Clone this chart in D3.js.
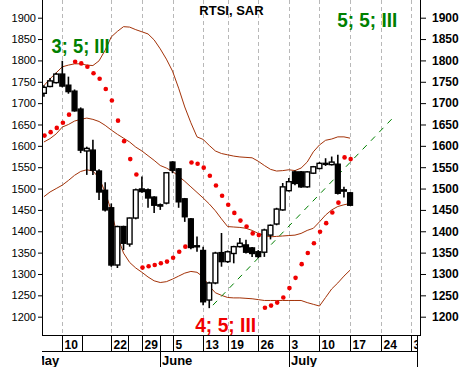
<!DOCTYPE html>
<html lang="en">
<head>
  <meta charset="UTF-8">
  <title>RTSI, SAR</title>
  <style>
    body { margin: 0; background: #fff; }
    svg { display: block; font-family: "Liberation Sans", Arial, sans-serif; }
  </style>
</head>
<body>
  <div id="chart"></div>
  <script src="https://cdn.jsdelivr.net/npm/d3@7/dist/d3.min.js"></script>
  <script>
    // trading days, index 0 = 10 May; first candle is index -3
    var firstDay = -3;
    var opens  = [1723, 1739, 1748, 1768, 1742, 1728, 1686, 1588, 1590, 1541, 1496, 1455, 1321, 1411, 1370, 1431, 1499,
      1497, 1480, 1462, 1466, 1562, 1546, 1476, 1429, 1366, 1355, 1239, 1279, 1350, 1329, 1348, 1364, 1368, 1361, 1352,
      1351, 1391, 1417, 1450, 1495, 1539, 1539, 1504, 1536, 1547, 1557, 1556, 1557, 1494, 1490];
    var highs  = [1742, 1759, 1771, 1799, 1762, 1732, 1690, 1598, 1614, 1545, 1515, 1465, 1413, 1413, 1432, 1500, 1528,
      1500, 1482, 1465, 1538, 1564, 1548, 1478, 1431, 1388, 1364, 1282, 1352, 1396, 1355, 1366, 1384, 1380, 1363, 1356,
      1406, 1416, 1455, 1513, 1525, 1542, 1541, 1541, 1553, 1562, 1571, 1575, 1579, 1504, 1492];
    var lows   = [1715, 1737, 1746, 1737, 1722, 1680, 1583, 1532, 1532, 1473, 1446, 1317, 1314, 1356, 1364, 1428, 1490,
      1455, 1443, 1450, 1463, 1536, 1455, 1422, 1358, 1352, 1227, 1220, 1276, 1317, 1326, 1325, 1362, 1348, 1340, 1337,
      1340, 1381, 1414, 1448, 1493, 1508, 1502, 1502, 1534, 1545, 1553, 1554, 1486, 1479, 1459];
    var closes = [1737, 1752, 1768, 1740, 1727, 1682, 1590, 1594, 1543, 1492, 1450, 1321, 1411, 1372, 1431, 1497, 1493,
      1478, 1461, 1459, 1537, 1543, 1469, 1434, 1362, 1364, 1235, 1279, 1349, 1329, 1352, 1364, 1372, 1351, 1348, 1341,
      1403, 1414, 1452, 1504, 1516, 1512, 1504, 1539, 1551, 1559, 1559, 1562, 1489, 1497, 1461];
    var sar    = [1624, 1632, 1642, 1654, 1673, 1797, 1793, 1785, 1770, 1757, 1733, 1706, 1659, 1611, 1569, 1533, 1315,
      1318, 1321, 1325, 1329, 1338, 1352, 1364, 1561, 1558, 1549, 1530, 1507, 1483, 1462, 1443, 1425, 1411, 1395, 1391,
      1221, 1226, 1233, 1245, 1267, 1291, 1323, 1349, 1372, 1399, 1419, 1444, 1467, 1573, 1569];
    var bandUpper = [1741, 1757, 1771, 1785, 1789, 1792, 1792, 1789, 1788, 1799, 1824, 1855, 1868, 1879, 1878, 1872, 1867,
      1862, 1848, 1827, 1803, 1775, 1735, 1691, 1654, 1621, 1615, 1601, 1588, 1582, 1579, 1576, 1574, 1573, 1572, 1564,
      1554, 1545, 1541, 1542, 1544, 1542, 1548, 1562, 1586, 1602, 1613, 1616, 1621, 1621, 1618];
    var bandMiddle = [1609, 1617, 1628, 1644, 1650, 1658, 1662, 1665, 1662, 1657, 1648, 1637, 1627, 1618, 1609, 1597, 1588,
      1577, 1566, 1554, 1548, 1540, 1529, 1517, 1504, 1491, 1478, 1464, 1448, 1429, 1411, 1410, 1409, 1407, 1402, 1395,
      1390, 1387, 1388, 1389, 1390, 1391, 1395, 1402, 1407, 1422, 1438, 1450, 1458, 1462, 1465];
    var bandLower = [1481, 1492, 1500, 1508, 1519, 1531, 1540, 1544, 1541, 1525, 1492, 1448, 1389, 1349, 1327, 1314, 1304,
      1293, 1284, 1280, 1282, 1288, 1295, 1302, 1306, 1304, 1293, 1272, 1256, 1250, 1245, 1244, 1244, 1243, 1242, 1240,
      1238, 1238, 1238, 1238, 1238, 1238, 1238, 1233, 1229, 1225, 1245, 1265, 1279, 1295, 1309];
    var trendLine = [{day: 24.6, value: 1227}, {day: 53.9, value: 1664}];

    var tickDays   = [0, 8, 13, 18, 23, 27, 32, 37, 42, 47, 52, 57];
    var tickLabels = ['10', '22', '29', '5', '13', '19', '26', '3', '10', '17', '24', '31'];
    var extraDividers = [3.2, 10.8];
    var months = [{name: 'May', day: -4.9}, {name: 'June', day: 16}, {name: 'July', day: 37}];
    var monthEnd = 58;   // 1 Aug, divider only, label falls outside the chart
    var notes = [
      {text: '3; 5; III', day: -1.75, value: 1817, color: '#008000', len: 58},
      {text: '5; 5; III', day: 44.9, value: 1878, color: '#008000', len: 60},
      {text: '4; 5; III', day: 21.7, value: 1164, color: '#f00000', len: 61}
    ];

    var width = 462, height = 367;
    var left = 42, right = 420, bottom = 335;

    var x = d3.scaleLinear().domain([0, 57]).range([62.3, 411.3]);
    var y = d3.scaleLinear().domain([1200, 1900]).range([316.7, 17.7]);

    var candles = opens.map(function(o, k) {
      return {day: firstDay + k, open: o, high: highs[k], low: lows[k], close: closes[k], sar: sar[k],
        up: bandUpper[k], mid: bandMiddle[k], lo: bandLower[k]};
    });

    var svg = d3.select('#chart').append('svg')
      .attr('width', width)
      .attr('height', height);
    svg.append('rect').attr('width', width).attr('height', height).attr('fill', '#fff');

    var defs = svg.append('defs');
    defs.append('clipPath').attr('id', 'plotClip')
      .append('rect').attr('x', left).attr('y', 0).attr('width', right - left).attr('height', bottom);
    defs.append('clipPath').attr('id', 'axisClip')
      .append('rect').attr('x', left).attr('y', bottom).attr('width', 418 - left).attr('height', height - bottom);

    var plot = svg.append('g').attr('clip-path', 'url(#plotClip)');

    // vertical grid
    plot.append('g')
      .selectAll('line')
      .data(tickDays)
      .enter().append('line')
      .attr('x1', function(d) { return Math.round(x(d)) + 0.5; })
      .attr('x2', function(d) { return Math.round(x(d)) + 0.5; })
      .attr('y1', 0)
      .attr('y2', bottom)
      .attr('stroke', '#b8b8b8')
      .attr('stroke-dasharray', '4,3');

    // bollinger bands
    ['up', 'mid', 'lo'].forEach(function(key) {
      plot.append('path')
        .datum(candles)
        .attr('fill', 'none')
        .attr('stroke', '#a33208')
        .attr('stroke-width', 1)
        .attr('d', d3.line()
          .x(function(d) { return x(d.day); })
          .y(function(d) { return y(d[key]); }));
    });

    // trend line
    plot.append('path')
      .datum(trendLine)
      .attr('fill', 'none')
      .attr('stroke', '#008000')
      .attr('stroke-width', 1)
      .attr('stroke-dasharray', '6,6')
      .attr('d', d3.line()
        .x(function(d) { return x(d.day); })
        .y(function(d) { return y(d.value); }));

    // candles
    var c = plot.append('g')
      .selectAll('g')
      .data(candles)
      .enter().append('g');
    c.append('line')
      .attr('x1', function(d) { return x(d.day); })
      .attr('x2', function(d) { return x(d.day); })
      .attr('y1', function(d) { return y(d.high); })
      .attr('y2', function(d) { return y(d.low); })
      .attr('stroke', '#000')
      .attr('stroke-width', 1.6);
    c.append('rect')
      .attr('x', function(d) { return x(d.day) - 2.4; })
      .attr('width', 4.8)
      .attr('y', function(d) { return y(Math.max(d.open, d.close)); })
      .attr('height', function(d) { return Math.max(1, Math.abs(y(d.open) - y(d.close))); })
      .attr('fill', function(d) { return d.close >= d.open ? '#fff' : '#000'; })
      .attr('stroke', '#000')
      .attr('stroke-width', 1.4);

    // parabolic SAR
    plot.append('g')
      .selectAll('circle')
      .data(candles)
      .enter().append('circle')
      .attr('cx', function(d) { return x(d.day) + 0.6; })
      .attr('cy', function(d) { return y(d.sar); })
      .attr('r', 2.3)
      .attr('fill', '#f00000');

    // annotations
    svg.append('g')
      .selectAll('text')
      .data(notes)
      .enter().append('text')
      .attr('x', function(d) { return x(d.day); })
      .attr('y', function(d) { return y(d.value); })
      .attr('fill', function(d) { return d.color; })
      .attr('font-size', 20)
      .attr('font-weight', 'bold')
      .attr('textLength', function(d) { return d.len; })
      .attr('lengthAdjust', 'spacingAndGlyphs')
      .text(function(d) { return d.text; });

    svg.append('text')
      .attr('x', 231.5)
      .attr('y', 15)
      .attr('text-anchor', 'middle')
      .attr('font-size', 13)
      .attr('font-weight', 'bold')
      .text('RTSI, SAR');

    // y axes
    function yAxis(axisFn, xpos, major, minor, pad, bold, fs) {
      var g = svg.append('g').attr('transform', 'translate(' + xpos + ',0)');
      g.call(axisFn(y).tickValues(d3.range(1160, 1941, 10)).tickSize(minor).tickFormat(''));
      g.call(axisFn(y).tickValues(d3.range(1200, 1901, 50)).tickSize(major).tickPadding(pad)
        .tickFormat(d3.format('d')));
      g.selectAll('.domain').remove();
      g.selectAll('text').attr('font-size', fs).attr('font-weight', bold ? 'bold' : 'normal')
        .attr('font-family', '"Liberation Sans", Arial, sans-serif').attr('fill', '#000');
      g.append('line').attr('x1', 0.5).attr('x2', 0.5).attr('y1', 0).attr('y2', bottom).attr('stroke', '#000');
    }
    yAxis(d3.axisLeft, left, 4, 2, 2, false, 11);
    yAxis(d3.axisRight, right, 6, 3, 6, true, 12);

    // x axis band
    var xa = svg.append('g');
    xa.append('line').attr('x1', left).attr('x2', right + 1).attr('y1', bottom + 0.5).attr('y2', bottom + 0.5)
      .attr('stroke', '#000');
    xa.append('line').attr('x1', left).attr('x2', 418).attr('y1', 351.5).attr('y2', 351.5).attr('stroke', '#000');
    var xc = xa.append('g').attr('clip-path', 'url(#axisClip)');
    xc.selectAll('line.sep')
      .data(tickDays.concat(extraDividers))
      .enter().append('line')
      .attr('class', 'sep')
      .attr('x1', function(d) { return Math.round(x(d)) + 0.5; })
      .attr('x2', function(d) { return Math.round(x(d)) + 0.5; })
      .attr('y1', bottom)
      .attr('y2', 351.5)
      .attr('stroke', '#000');
    xc.selectAll('line.month')
      .data(months.map(function(m) { return m.day; }).concat([monthEnd]))
      .enter().append('line')
      .attr('class', 'month')
      .attr('x1', function(d) { return Math.round(x(d)) + 0.5; })
      .attr('x2', function(d) { return Math.round(x(d)) + 0.5; })
      .attr('y1', bottom)
      .attr('y2', height)
      .attr('stroke', '#000');
    xc.selectAll('text.tick')
      .data(tickDays)
      .enter().append('text')
      .attr('class', 'tick')
      .attr('x', function(d) { return Math.round(x(d)) + 2.5; })
      .attr('y', 348.5)
      .attr('font-size', 12)
      .attr('font-weight', 'bold')
      .text(function(d, k) { return tickLabels[k]; });
    xc.selectAll('text.month')
      .data(months)
      .enter().append('text')
      .attr('class', 'month')
      .attr('x', function(d) { return Math.round(x(d.day)) + 2; })
      .attr('y', 365)
      .attr('font-size', 13)
      .attr('font-weight', 'bold')
      .text(function(d) { return d.name; });
  </script>
</body>
</html>
